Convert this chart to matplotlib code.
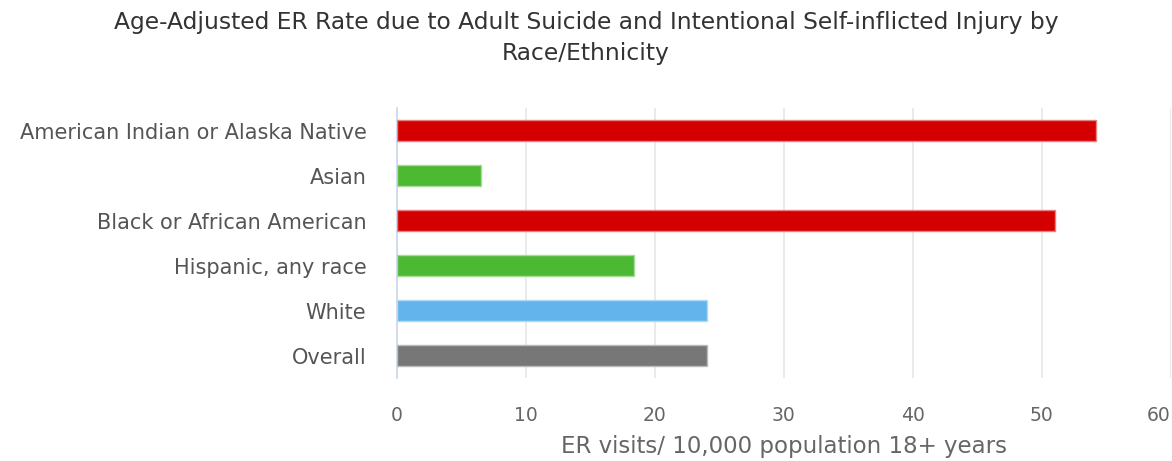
import numpy as np
import matplotlib.pyplot as plt

plt.rcParams['font.family'] = ['DejaVu Sans']

# ER visit rates per 10,000 adults, by race/ethnicity
grupos = ["American Indian or Alaska Native", "Asian", "Black or African American",
          "Hispanic, any race", "White", "Overall"]
taxas = [54.2, 6.5, 51.0, 18.4, 24.0, 24.0]
cores = ["#d40000", "#4cb932", "#d40000", "#4cb932", "#63b4ec", "#777777"]
bordas = ["#e88080", "#a5dc98", "#e88080", "#a5dc98", "#b1daf6", "#bbbbbb"]
marcas_x = [0, 10, 20, 30, 40, 50, 60]

fig = plt.figure(figsize=(11.72, 4.61), dpi=100)
ax = fig.add_axes([0.3387, 0.18, 0.9990 - 0.3387, 0.7657 - 0.18])

pos = np.arange(len(grupos))
ax.barh(pos, taxas, height=0.45, color=cores, edgecolor=bordas, linewidth=1, zorder=3)

ax.set_ylim(len(grupos) - 0.5, -0.5)
ax.set_xlim(0, 60)
ax.set_xticks(marcas_x)
ax.set_xticklabels([str(m) for m in marcas_x])
ax.set_yticks(pos)
ax.set_yticklabels(grupos)
# last tick label would run past the right edge
ax.get_xticklabels()[-1].set_horizontalalignment("right")

ax.grid(axis="x", color="#e6e6e6", linewidth=1.2, zorder=0)
for lado in ["top", "right", "bottom"]:
    ax.spines[lado].set_visible(False)
ax.spines["left"].set_color("#ccd6eb")
ax.spines["left"].set_linewidth(1.2)

ax.tick_params(axis="x", length=0, pad=20, labelsize=13.5, labelcolor="#666666")
ax.tick_params(axis="y", length=0, pad=22, labelsize=15, labelcolor="#555555")

ax.set_xlabel("ER visits/ 10,000 population 18+ years", fontsize=16.5, color="#666666", labelpad=7)

fig.suptitle("Age-Adjusted ER Rate due to Adult Suicide and Intentional Self-inflicted Injury by\nRace/Ethnicity",
             x=0.5, y=0.976, fontsize=16.8, color="#333333", linespacing=1.45)

fig.savefig("out.png", dpi=100)
